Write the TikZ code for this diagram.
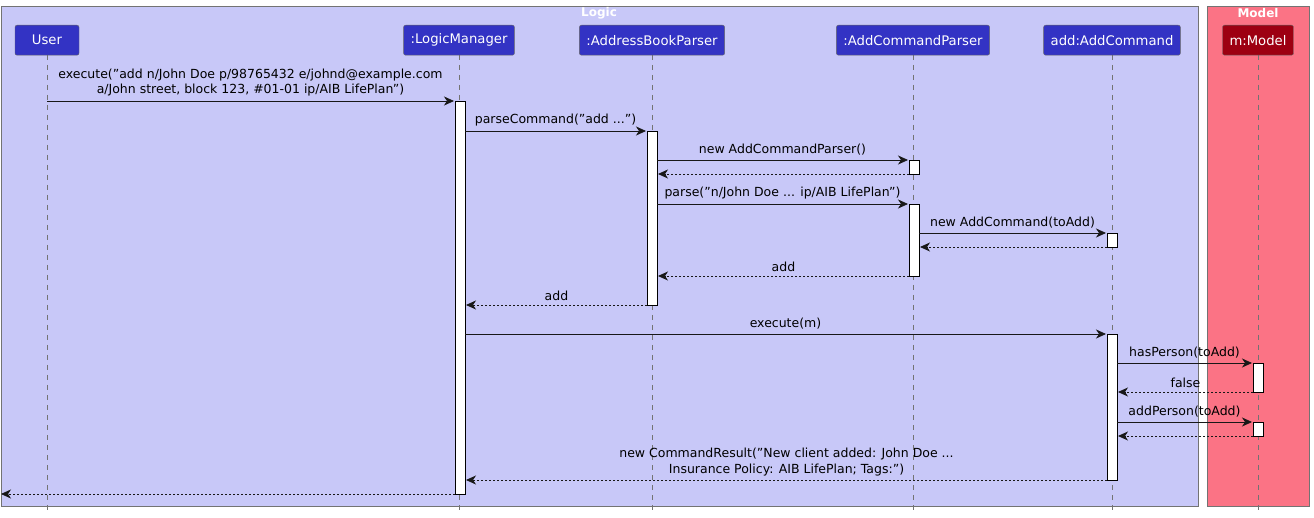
\documentclass[tikz,border=0pt]{standalone}
\usepackage{fontspec}
\defaultfontfeatures{}
\setmainfont{DejaVu Sans}[Ligatures=ResetAll]
\usetikzlibrary{arrows.meta}
\definecolor{logicbg}{HTML}{C8C8F8}
\definecolor{modelbg}{HTML}{FB7385}
\definecolor{headblue}{HTML}{3333C4}
\definecolor{headred}{HTML}{9D0012}
\definecolor{linec}{HTML}{181818}
\newcommand\qq{\char"0022\relax}
\begin{document}
\begin{tikzpicture}[x=1pt,y=-1pt,font=\fontsize{12.5}{15.5}\selectfont,
  grp/.style={draw=gray!90!black,line width=0.8pt},
  head/.style={draw=black!60,rounded corners=2pt,text=white,minimum height=30pt,inner xsep=7pt,anchor=north,font=\fontsize{13.2}{16}\selectfont},
  life/.style={dashed,dash pattern=on 5pt off 5pt,draw=black!55,line width=0.7pt},
  act/.style={draw=black,fill=white,line width=0.8pt},
  msg/.style={draw=linec,line width=0.8pt,-{Stealth[length=10pt,width=9pt,inset=3pt]}},
  ret/.style={msg,dash pattern=on 2pt off 2pt},
  lbl/.style={inner sep=1pt,anchor=south,yshift=3pt,align=center}]
\useasboundingbox (0,0) rectangle (1314,518);
\fill[logicbg] (1,6) rectangle (1198,506);
\draw[grp] (1,6) rectangle (1198,506);
\fill[modelbg] (1207,6) rectangle (1309,506);
\draw[grp] (1207,6) rectangle (1309,506);
\node[text=white,font=\bfseries\fontsize{12}{14}\selectfont] (tl) at (599,13) {Logic};
\node[text=white,font=\bfseries\fontsize{12}{14}\selectfont] (tm) at (1258,13) {Model};
% lifelines
\foreach \n/\x in {u/47,lm/459,abp/652,acp/913,ac/1112,m/1258}{
  \coordinate (\n top) at (\x,55); \coordinate (\n bot) at (\x,512);
  \draw[life] (\n top) -- (\n bot);}
\node[head,fill=headblue,minimum width=64pt] (hu) at (47,25) {User};
\node[head,fill=headblue] (hlm) at (459,25) {:LogicManager};
\node[head,fill=headblue] (habp) at (652,25) {:AddressBookParser};
\node[head,fill=headblue] (hacp) at (913,25) {:AddCommandParser};
\node[head,fill=headblue] (hac) at (1112,25) {add:AddCommand};
\node[head,fill=headred] (hm) at (1258,25) {m:Model};
% activations
\draw[act] (455,101) rectangle (465,494);
\draw[act] (647,131) rectangle (657,305);
\draw[act] (909,160) rectangle (919,174);
\draw[act] (909,204) rectangle (919,276);
\draw[act] (1107,233) rectangle (1117,247);
\draw[act] (1107,334) rectangle (1117,480);
\draw[act] (1253,363) rectangle (1263,392);
\draw[act] (1253,422) rectangle (1263,436);
% endpoints
\coordinate (a1) at (47,101); \coordinate (b1) at (454,101);
\coordinate (a2) at (465,131); \coordinate (b2) at (646,131);
\coordinate (a3) at (657,160); \coordinate (b3) at (908,160);
\coordinate (a4) at (909,174); \coordinate (b4) at (658,174);
\coordinate (a5) at (657,204); \coordinate (b5) at (908,204);
\coordinate (a6) at (919,233); \coordinate (b6) at (1106,233);
\coordinate (a7) at (1107,247); \coordinate (b7) at (920,247);
\coordinate (a8) at (909,276); \coordinate (b8) at (658,276);
\coordinate (a9) at (647,305); \coordinate (b9) at (466,305);
\coordinate (a10) at (465,334); \coordinate (b10) at (1106,334);
\coordinate (a11) at (1117,363); \coordinate (b11) at (1252,363);
\coordinate (a12) at (1253,392); \coordinate (b12) at (1118,392);
\coordinate (a13) at (1117,422); \coordinate (b13) at (1252,422);
\coordinate (a14) at (1253,436); \coordinate (b14) at (1118,436);
\coordinate (a15) at (1107,480); \coordinate (b15) at (466,480);
\coordinate (a16) at (455,494); \coordinate (b16) at (1,494);
\draw[msg] (a1) -- node[lbl] (l1) {execute(\qq add n/John Doe p/98765432 e/johnd@example.com\\a/John street, block 123, \#01-01 ip/AIB LifePlan\qq)} (b1);
\draw[msg] (a2) -- node[lbl] (l2) {parseCommand(\qq add ...\qq)} (b2);
\draw[msg] (a3) -- node[lbl] (l3) {new AddCommandParser()} (b3);
\draw[ret] (a4) -- (b4);
\draw[msg] (a5) -- node[lbl] (l5) {parse(\qq n/John Doe ... ip/AIB LifePlan\qq)} (b5);
\draw[msg] (a6) -- node[lbl] (l6) {new AddCommand(toAdd)} (b6);
\draw[ret] (a7) -- (b7);
\draw[ret] (a8) -- node[lbl] (l8) {add} (b8);
\draw[ret] (a9) -- node[lbl] (l9) {add} (b9);
\draw[msg] (a10) -- node[lbl] (l10) {execute(m)} (b10);
\draw[msg] (a11) -- node[lbl] (l11) {hasPerson(toAdd)} (b11);
\draw[ret] (a12) -- node[lbl] (l12) {false} (b12);
\draw[msg] (a13) -- node[lbl] (l13) {addPerson(toAdd)} (b13);
\draw[ret] (a14) -- (b14);
\draw[ret] (a15) -- node[lbl] (l15) {new CommandResult(\qq New client added: John Doe ...\\Insurance Policy: AIB LifePlan; Tags:\qq)} (b15);
\draw[ret] (a16) -- (b16);
\end{tikzpicture}
\end{document}
